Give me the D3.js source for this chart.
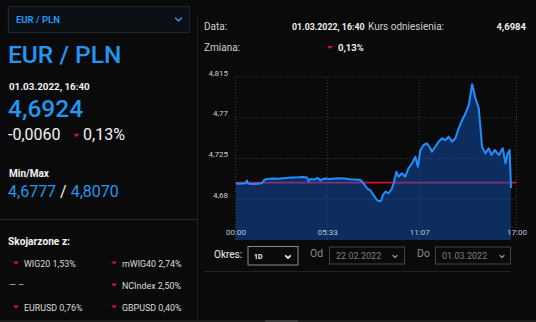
<!DOCTYPE html>
<html>
<head>
<meta charset="utf-8">
<script src="https://cdn.jsdelivr.net/npm/d3@7"></script>
<style>
  html, body { margin: 0; padding: 0; background: #0a0a0a; }
  svg { display: block; font-family: Roboto, "Noto Sans", sans-serif; }
</style>
</head>
<body>
<svg id="chart" width="536" height="322"></svg>
<script>
// Intraday EUR/PLN quotes: minutes since 00:00 and rate
const minutes = [2, 16, 35, 42, 45, 60, 82, 96, 104, 115, 133, 155, 180, 205, 227, 245, 260, 265, 271, 285,
  300, 307, 322, 344, 369, 395, 416, 438, 453, 465, 477, 489, 501, 513, 522, 529, 535, 544, 556, 568,
  574, 584, 592, 604, 616, 628, 641, 653, 662, 671, 683, 695, 707, 713, 725, 737, 750, 762, 774, 786,
  798, 810, 823, 835, 847, 859, 871, 883, 895, 907, 919, 929, 941, 956, 970, 980, 988, 995, 1000];
const rates = [4.6974, 4.6971, 4.6976, 4.7007, 4.6974, 4.6968, 4.6971, 4.6979, 4.7013, 4.7024, 4.7029, 4.7027, 4.7035, 4.7040, 4.7042, 4.7046, 4.7040, 4.6996, 4.7024, 4.7018,
  4.7035, 4.7007, 4.7029, 4.7024, 4.7031, 4.7029, 4.7020, 4.7018, 4.7013, 4.6976, 4.6921, 4.6902, 4.6847, 4.6792, 4.6777, 4.6786, 4.6847, 4.6883, 4.6866, 4.6921,
  4.6976, 4.7104, 4.7049, 4.7087, 4.7049, 4.7142, 4.7197, 4.7270, 4.7159, 4.7344, 4.7399, 4.7418, 4.7363, 4.7325, 4.7380, 4.7435, 4.7473, 4.7454, 4.7491, 4.7435,
  4.7473, 4.7583, 4.7675, 4.7749, 4.7841, 4.8070, 4.7915, 4.7804, 4.7380, 4.7307, 4.7363, 4.7289, 4.7344, 4.7289, 4.7363, 4.7197, 4.7307, 4.7344, 4.6924];
const referenceRate = 4.6984;

const yTicks = [4.68, 4.725, 4.77, 4.815];
const yTickLabels = ["4,68", "4,725", "4,77", "4,815"];
const xTicks = [0, 333, 667, 1020];
const xTickLabels = ["00:00", "05:33", "11:07", "17:00"];

// Related instruments (name, change)
const relatedNames = ["WIG20", "mWIG40", null, "NCIndex", "EURUSD", "GBPUSD"];
const relatedChanges = ["1,53%", "2,74%", null, "2,50%", "0,76%", "0,40%"];

const BLUE = "#2196f3";
const RED = "#d3123c";

const svg = d3.select("#chart");

// ---------- helpers ----------
function downTriangle(g, cx, cy, w, h) {
  g.append("path")
    .attr("d", `M${cx - w / 2},${cy - h / 2}L${cx + w / 2},${cy - h / 2}L${cx},${cy + h / 2}Z`)
    .attr("fill", RED);
}
function chevron(g, cx, cy, w, color, sw) {
  g.append("path")
    .attr("d", `M${cx - w / 2},${cy - w / 4}L${cx},${cy + w / 4}L${cx + w / 2},${cy - w / 4}`)
    .attr("fill", "none").attr("stroke", color).attr("stroke-width", sw)
    .attr("stroke-linecap", "round").attr("stroke-linejoin", "round");
}
function text(g, x, y, s, opts = {}) {
  return g.append("text").attr("x", x).attr("y", y).text(s)
    .attr("font-size", opts.size || 10)
    .attr("font-weight", opts.weight || 400)
    .attr("fill", opts.fill || "#e6e6e6")
    .attr("text-anchor", opts.anchor || "start");
}

// ---------- left panel ----------
const left = svg.append("g");
left.append("rect").attr("x", 8.5).attr("y", 6.5).attr("width", 181).attr("height", 26)
  .attr("fill", "#0c0f14").attr("stroke", "#1d2733").attr("stroke-width", 1.2).attr("rx", 1);
text(left, 16, 23, "EUR / PLN", { size: 9.5, weight: 700, fill: BLUE });
chevron(left, 178.5, 19.5, 6, BLUE, 1.6);

text(left, 8, 63, "EUR / PLN", { size: 24.5, weight: 500, fill: BLUE });
text(left, 9, 89.5, "01.03.2022, 16:40", { size: 9.8, weight: 700, fill: "#f2f2f2" });
text(left, 8, 117, "4,6924", { size: 24.5, weight: 500, fill: BLUE });
text(left, 8, 140, "-0,0060", { size: 16, fill: "#f2f2f2" });
downTriangle(left, 76.5, 135.5, 6, 3.5);
text(left, 83, 140, "0,13%", { size: 16, fill: "#f2f2f2" });

text(left, 9, 176.5, "Min/Max", { size: 10, weight: 700, fill: "#f2f2f2" });
const mm = left.append("text").attr("x", 8).attr("y", 197).attr("font-size", 16);
mm.append("tspan").attr("fill", BLUE).text("4,6777");
mm.append("tspan").attr("fill", "#f2f2f2").text(" / ");
mm.append("tspan").attr("fill", BLUE).text("4,8070");

left.append("line").attr("x1", 0).attr("x2", 197).attr("y1", 219.5).attr("y2", 219.5)
  .attr("stroke", "#262626").attr("stroke-width", 1);

text(left, 8, 245, "Skojarzone z:", { size: 10.2, weight: 700, fill: "#f2f2f2" });
const rowY = [267, 289, 311];
const colX = [16, 114];
relatedNames.forEach((name, i) => {
  const cx = colX[i % 2], by = rowY[Math.floor(i / 2)];
  if (name === null) {
    text(left, 9, by - 1, "— –", { size: 9, fill: "#cfcfcf" });
    return;
  }
  downTriangle(left, cx, by - 4, 6, 3.2);
  text(left, cx + 8, by, `${name} ${relatedChanges[i]}`, { size: 8.9, fill: "#dcdcdc" });
});

// panel divider
svg.append("line").attr("x1", 197.5).attr("x2", 197.5).attr("y1", 16).attr("y2", 322)
  .attr("stroke", "#202020").attr("stroke-width", 1);

// ---------- right header ----------
const hdr = svg.append("g");
text(hdr, 204, 30, "Data:", { size: 10, fill: "#cfcfcf" });
text(hdr, 292, 30, "01.03.2022, 16:40", { size: 8.8, weight: 700, fill: "#ededed" });
text(hdr, 368, 30, "Kurs odniesienia:", { size: 10, fill: "#cfcfcf" });
text(hdr, 526, 30, "4,6984", { size: 9.5, weight: 700, fill: "#ededed", anchor: "end" });
text(hdr, 204, 51, "Zmiana:", { size: 10, fill: "#cfcfcf" });
downTriangle(hdr, 330, 47.5, 6, 3.2);
text(hdr, 338, 51, "0,13%", { size: 9.5, weight: 700, fill: "#ededed" });

// ---------- chart ----------
const x = d3.scaleLinear().domain([0, 1020]).range([235.5, 516.5]);
const y = d3.scaleLinear().domain([4.635, 4.815]).range([240, 77]);
const data = minutes.map((m, i) => ({ t: m, v: rates[i] }));

const plot = svg.append("g");

// grid
plot.append("g").selectAll("line").data(xTicks).join("line")
  .attr("x1", d => x(d)).attr("x2", d => x(d)).attr("y1", y(4.815)).attr("y2", y(4.635))
  .attr("stroke", "#3a3a3a").attr("stroke-width", 1).attr("stroke-dasharray", "1,2");
plot.append("g").selectAll("line").data(yTicks).join("line")
  .attr("x1", x(0)).attr("x2", x(1020)).attr("y1", d => y(d)).attr("y2", d => y(d))
  .attr("stroke", "#3a3a3a").attr("stroke-width", 1).attr("stroke-dasharray", "1,2");

// reference rate line (sits beneath translucent area)
plot.append("line").attr("x1", x(0)).attr("x2", x(1020))
  .attr("y1", y(referenceRate)).attr("y2", y(referenceRate))
  .attr("stroke", "#d0102e").attr("stroke-width", 1.6);

const area = d3.area().x(d => x(d.t)).y0(y(4.635)).y1(d => y(d.v));
plot.append("path").datum(data).attr("d", area).attr("fill", "rgba(18,95,215,0.42)");

const line = d3.line().x(d => x(d.t)).y(d => y(d.v));
plot.append("path").datum(data).attr("d", line)
  .attr("fill", "none").attr("stroke", "#1f8fff").attr("stroke-width", 2)
  .attr("stroke-linejoin", "round");

// axes
const yAxis = d3.axisLeft(y).tickValues(yTicks).tickFormat((d, i) => yTickLabels[i])
  .tickSize(0).tickPadding(8);
const ya = plot.append("g").attr("transform", "translate(236,0)").call(yAxis);
ya.select(".domain").remove();
ya.selectAll("text").attr("fill", "#cfcfcf").attr("font-size", 8)
  .attr("font-family", "Roboto, sans-serif").attr("dy", "-0.25em");

const xAxis = d3.axisTop(x).tickValues(xTicks).tickFormat((d, i) => xTickLabels[i])
  .tickSize(0).tickPadding(5);
const xa = plot.append("g").attr("transform", "translate(0,240)").call(xAxis);
xa.select(".domain").remove();
xa.selectAll("text").attr("fill", "#b9c9dd").attr("font-size", 8)
  .attr("font-family", "Roboto, sans-serif");

// ---------- controls ----------
const ctl = svg.append("g");
text(ctl, 214, 258, "Okres:", { size: 10, fill: "#efefef" });
ctl.append("rect").attr("x", 248).attr("y", 246.5).attr("width", 50).attr("height", 18.5)
  .attr("fill", "none").attr("stroke", "#8a8a8a").attr("stroke-width", 1);
text(ctl, 254, 258.5, "1D", { size: 7, weight: 700, fill: "#f0f0f0" });
chevron(ctl, 288, 257, 4.5, "#f0f0f0", 1.6);

text(ctl, 310, 257, "Od", { size: 10.5, fill: "#8c8c8c" });
ctl.append("rect").attr("x", 329.5).attr("y", 247).attr("width", 75).attr("height", 17)
  .attr("fill", "none").attr("stroke", "#444").attr("stroke-width", 1);
text(ctl, 336, 258.5, "22.02.2022", { size: 9, fill: "#7d7d7d" });
chevron(ctl, 395, 256.5, 4, "#8a8a8a", 1.4);

text(ctl, 417, 257, "Do", { size: 10.5, fill: "#8c8c8c" });
ctl.append("rect").attr("x", 435.5).attr("y", 247).attr("width", 75).attr("height", 17)
  .attr("fill", "none").attr("stroke", "#444").attr("stroke-width", 1);
text(ctl, 442, 258.5, "01.03.2022", { size: 9, fill: "#7d7d7d" });
chevron(ctl, 502, 256.5, 4, "#8a8a8a", 1.4);

ctl.append("line").attr("x1", 204).attr("x2", 511).attr("y1", 271.5).attr("y2", 271.5)
  .attr("stroke", "#222").attr("stroke-width", 1);

// bottom scrollbar strip
svg.append("rect").attr("x", 0).attr("y", 320).attr("width", 536).attr("height", 2).attr("fill", "#1c1c1c");
svg.append("rect").attr("x", 265).attr("y", 320).attr("width", 33).attr("height", 2).attr("fill", "#3a3a3a");
</script>
</body>
</html>
